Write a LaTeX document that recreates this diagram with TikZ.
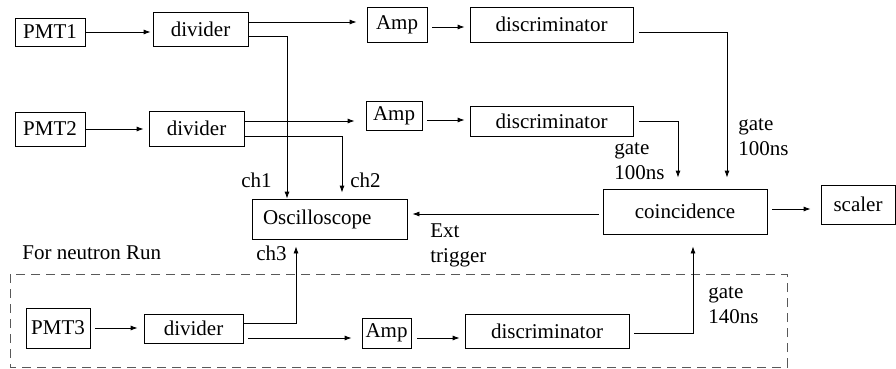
\documentclass[tikz,border=0pt]{standalone}
\usepackage{fontspec}
\setmainfont{Liberation Serif}
\usetikzlibrary{arrows.meta}

\begin{document}
\begin{tikzpicture}[x=1pt,y=-1pt,line width=0.8pt,>={Latex[length=7pt,width=5pt]},font=\rmfamily\fontsize{21}{25}\selectfont]
\useasboundingbox (0,0) rectangle (896,369);
\node(pmt1) at (50,32) [draw, minimum width=70pt, minimum height=28pt]{PMT1};
\node(div1) at (200.5,29) [draw, minimum width=95pt, minimum height=34pt]{divider};
\node(amp1) at (397,24.5) [draw, minimum width=60pt, minimum height=35pt]{Amp};
\node(disc1) at (551.5,24.5) [draw, minimum width=163pt, minimum height=35pt]{discriminator};
\node(pmt2) at (50,129) [draw, minimum width=70pt, minimum height=34pt]{PMT2};
\node(div2) at (196.5,128.5) [draw, minimum width=95pt, minimum height=35pt]{divider};
\node(amp2) at (394,115.5) [draw, minimum width=56pt, minimum height=29pt]{Amp};
\node(disc2) at (551.5,121) [draw, minimum width=163pt, minimum height=30pt]{discriminator};
\node(osc) at (329.5,219) [draw, minimum width=155pt, minimum height=40pt, text width=133pt, align=left]{Oscilloscope};
\node(coinc) at (685,211.5) [draw, minimum width=164pt, minimum height=45pt]{coincidence};
\node(scaler) at (858,204.5) [draw, minimum width=74pt, minimum height=39pt]{scaler};
\node(pmt3) at (58,328) [draw, minimum width=64pt, minimum height=40pt]{PMT3};
\node(div3) at (193.5,328.5) [draw, minimum width=99pt, minimum height=29pt]{divider};
\node(amp3) at (386.5,333) [draw, minimum width=49pt, minimum height=30pt]{Amp};
\node(disc3) at (547,331) [draw, minimum width=164pt, minimum height=34pt]{discriminator};
\draw[dashed, dash pattern=on 9pt off 6pt, gray!70!black] (10,274) rectangle (787,367);

\node(ch1) at (272,180) [anchor=east, inner sep=0pt]{ch1};
\node(ch2) at (350,180) [anchor=west, inner sep=0pt]{ch2};
\node(ch3) at (287,253) [anchor=east, inner sep=0pt]{ch3};
\node(gate1) at (738,137.5) [anchor=west, inner sep=0pt, align=left]{gate\\100ns};
\node(gate2) at (614,161) [anchor=west, inner sep=0pt, align=left]{gate\\100ns};
\node(gate3) at (708,305) [anchor=west, inner sep=0pt, align=left]{gate\\140ns};
\node(ext) at (430,245) [anchor=west, inner sep=0pt, align=left]{Ext\\trigger};
\node(run) at (22,253) [anchor=west, inner sep=0pt]{For neutron Run};

\draw [->,shorten >=2pt] (pmt1) -- (div1.west |- pmt1);
\draw [->,shorten >=10pt] (div1.east |- 0,22) -- (amp1.west |- 0,22);
\draw [->] (div1.east |- 0,36) -| (287,0 |- osc.north);
\draw [->,shorten <=5pt,shorten >=5pt] (amp1.east |- 0,27) -- (disc1.west |- 0,27);
\draw [->,shorten <=6pt,shorten >=11pt] (disc1.east |- 0,32) -| (727,0 |- coinc.north);

\draw [->,shorten >=5pt] (pmt2) -- (div2.west |- pmt2);
\draw [->,shorten >=11pt] (div2.east |- 0,121) -- (amp2.west |- 0,121);
\draw [->,shorten >=6pt] (div2.east |- 0,136) -| (342,0 |- osc.north);
\draw [->,shorten <=5pt,shorten >=5pt] (amp2.east |- 0,120) -- (disc2.west |- 0,120);
\draw [->,shorten <=6pt,shorten >=11pt] (disc2.east |- 0,121) -| (678,0 |- coinc.north);

\draw [->,shorten <=4pt,shorten >=5pt] (coinc.west |- 0,214) -- (osc.east |- 0,214);
\draw [->,shorten <=5pt,shorten >=10pt] (coinc.east |- 0,209) -- (scaler.west |- 0,209);

\draw [->,shorten <=5pt,shorten >=6pt] (pmt3.east |- 0,328) -- (div3.west |- 0,328);
\draw [->,shorten >=7pt] (div3.east |- 0,323) -| (296,0 |- osc.south);
\draw [->,shorten <=5pt,shorten >=10pt] (div3.east |- 0,338) -- (amp3.west |- 0,338);
\draw [->,shorten <=6pt,shorten >=5pt] (amp3.east |- 0,338) -- (disc3.west |- 0,338);
\draw [->,shorten <=5pt,shorten >=12pt] (disc3.east |- 0,333) -| (693,0 |- coinc.south);

\end{tikzpicture}
\end{document}
